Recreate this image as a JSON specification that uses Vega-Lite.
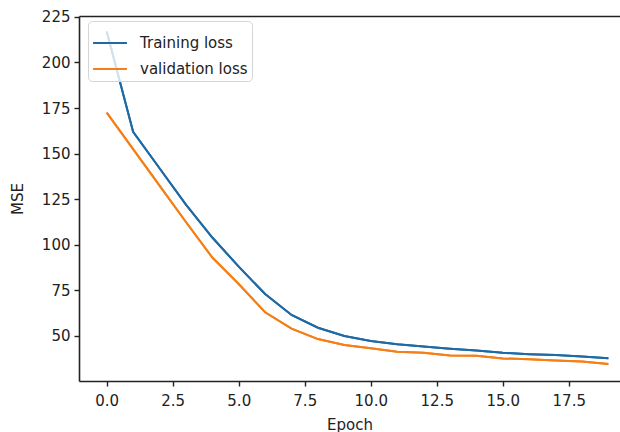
{
  "$schema": "https://vega.github.io/schema/vega-lite/v6.json",
  "autosize": "none",
  "width": 541,
  "height": 365,
  "padding": {"left": 79, "top": 16, "right": 0, "bottom": 51},
  "background": "white",
  "config": {
    "view": {"stroke": null},
    "font": "DejaVu Sans",
    "axis": {
      "labelFont": "DejaVu Sans", "labelFontSize": 15, "labelColor": "#222",
      "titleFont": "DejaVu Sans", "titleFontSize": 15, "titleFontWeight": "normal", "titleColor": "#222",
      "domainColor": "#222", "domainWidth": 1.6, "tickColor": "#222", "tickWidth": 1.4, "tickSize": 5,
      "grid": false
    }
  },
  "data": {"values": [
    {"epoch": 0, "series": "Training loss", "mse": 217},
    {"epoch": 1, "series": "Training loss", "mse": 162},
    {"epoch": 2, "series": "Training loss", "mse": 142},
    {"epoch": 3, "series": "Training loss", "mse": 122},
    {"epoch": 4, "series": "Training loss", "mse": 104},
    {"epoch": 5, "series": "Training loss", "mse": 88},
    {"epoch": 6, "series": "Training loss", "mse": 73},
    {"epoch": 7, "series": "Training loss", "mse": 61.5},
    {"epoch": 8, "series": "Training loss", "mse": 54.5},
    {"epoch": 9, "series": "Training loss", "mse": 50},
    {"epoch": 10, "series": "Training loss", "mse": 47.2},
    {"epoch": 11, "series": "Training loss", "mse": 45.5},
    {"epoch": 12, "series": "Training loss", "mse": 44.2},
    {"epoch": 13, "series": "Training loss", "mse": 43},
    {"epoch": 14, "series": "Training loss", "mse": 42},
    {"epoch": 15, "series": "Training loss", "mse": 40.8},
    {"epoch": 16, "series": "Training loss", "mse": 40},
    {"epoch": 17, "series": "Training loss", "mse": 39.5},
    {"epoch": 18, "series": "Training loss", "mse": 38.8},
    {"epoch": 19, "series": "Training loss", "mse": 37.8},
    {"epoch": 0, "series": "validation loss", "mse": 172.5},
    {"epoch": 1, "series": "validation loss", "mse": 152.5},
    {"epoch": 2, "series": "validation loss", "mse": 132.5},
    {"epoch": 3, "series": "validation loss", "mse": 112.5},
    {"epoch": 4, "series": "validation loss", "mse": 93},
    {"epoch": 5, "series": "validation loss", "mse": 78.5},
    {"epoch": 6, "series": "validation loss", "mse": 63},
    {"epoch": 7, "series": "validation loss", "mse": 54},
    {"epoch": 8, "series": "validation loss", "mse": 48.3},
    {"epoch": 9, "series": "validation loss", "mse": 45},
    {"epoch": 10, "series": "validation loss", "mse": 43.3},
    {"epoch": 11, "series": "validation loss", "mse": 41.3},
    {"epoch": 12, "series": "validation loss", "mse": 40.8},
    {"epoch": 13, "series": "validation loss", "mse": 39.3},
    {"epoch": 14, "series": "validation loss", "mse": 39.2},
    {"epoch": 15, "series": "validation loss", "mse": 37.7},
    {"epoch": 16, "series": "validation loss", "mse": 37.2},
    {"epoch": 17, "series": "validation loss", "mse": 36.6},
    {"epoch": 18, "series": "validation loss", "mse": 36},
    {"epoch": 19, "series": "validation loss", "mse": 34.6}
  ]},
  "resolve": {"axis": {"x": "independent"}},
  "layer": [
    {
      "mark": {"type": "line", "strokeWidth": 2, "clip": true},
      "encoding": {
        "x": {"field": "epoch", "type": "quantitative",
              "scale": {"domain": [-1.05, 19.44], "nice": false, "zero": false},
              "axis": {"title": "Epoch", "values": [0, 2.5, 5, 7.5, 10, 12.5, 15, 17.5], "format": ".1f", "labelPadding": 7, "titlePadding": 9}},
        "y": {"field": "mse", "type": "quantitative",
              "scale": {"domain": [25.3, 225.5], "nice": false, "zero": false},
              "axis": {"title": "MSE", "values": [50, 75, 100, 125, 150, 175, 200, 225], "labelPadding": 4, "titlePadding": 16}},
        "color": {"field": "series", "type": "nominal",
                  "scale": {"domain": ["Training loss", "validation loss"], "range": ["#1f6aa5", "#f57f17"]},
                  "legend": {"title": null, "orient": "none", "legendX": 9, "legendY": 5,
                             "symbolType": "stroke", "symbolSize": 1150, "symbolStrokeWidth": 2,
                             "labelFont": "DejaVu Sans", "labelFontSize": 15, "labelColor": "#222",
                             "labelOffset": 12, "rowPadding": -1, "padding": 4,
                             "strokeColor": "#d5d5d5", "fillColor": "rgba(255,255,255,0.8)", "cornerRadius": 4}}
      }
    },
    {
      "mark": {"type": "line", "strokeWidth": 2, "clip": true},
      "encoding": {
        "x": {"field": "epoch", "type": "quantitative",
              "axis": {"orient": "top", "labels": false, "ticks": false, "title": null}},
        "y": {"field": "mse", "type": "quantitative"},
        "color": {"field": "series", "type": "nominal"}
      }
    }
  ]
}
